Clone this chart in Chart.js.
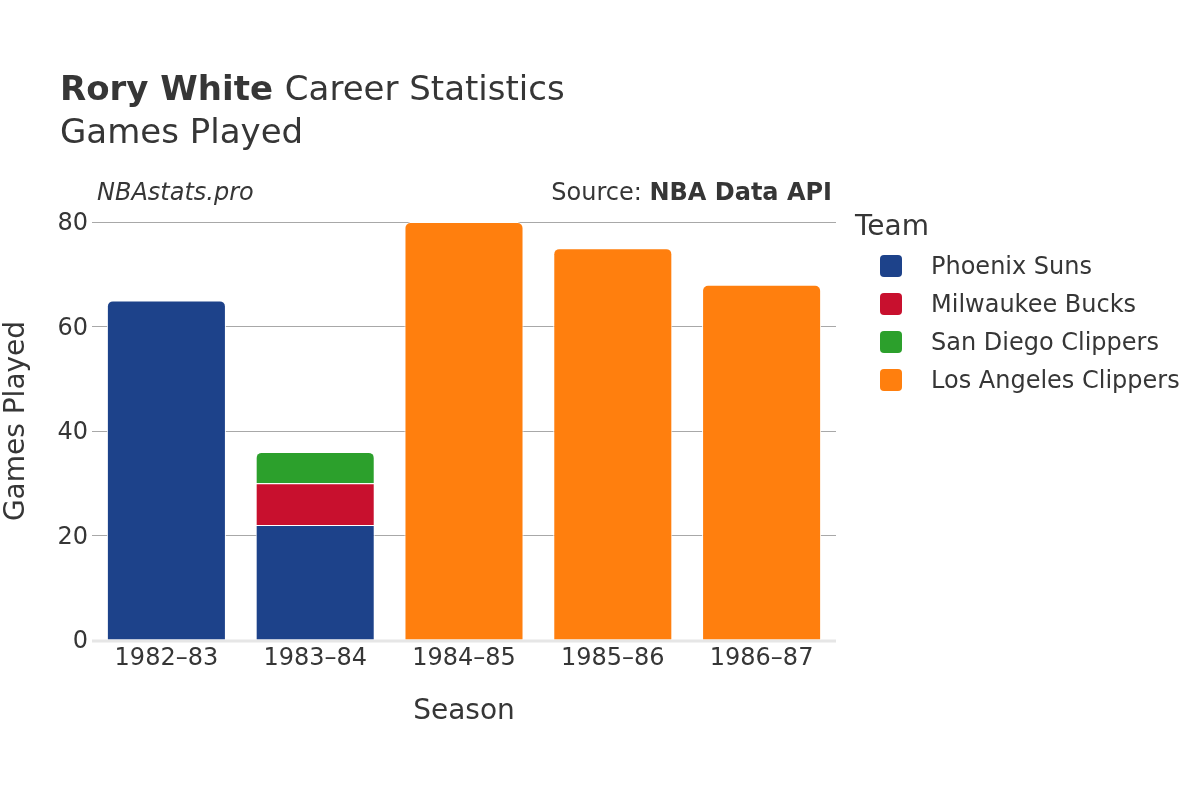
<!DOCTYPE html>
<html>
<head>
<meta charset="utf-8">
<script src="https://cdn.jsdelivr.net/npm/chart.js@4.4.1/dist/chart.umd.min.js"></script>
<style>
  html, body { margin: 0; padding: 0; background: #ffffff; }
  #wrap { width: 1200px; height: 800px; position: relative; }
</style>
</head>
<body>
<div id="wrap"><canvas id="c" width="1200" height="800"></canvas></div>
<script>
const seasons = ["1982–83", "1983–84", "1984–85", "1985–86", "1986–87"];
const teams = ["Phoenix Suns", "Milwaukee Bucks", "San Diego Clippers", "Los Angeles Clippers"];
const teamColors = ["#1d428a", "#c8102e", "#2ca02c", "#ff7f0e"];
const phoenixSuns = [65, 22, null, null, null];
const milwaukeeBucks = [null, 8, null, null, null];
const sanDiegoClippers = [null, 6, null, null, null];
const losAngelesClippers = [null, null, 80, 75, 68];
const yTicks = [0, 20, 40, 60, 80];

const seriesValues = [phoenixSuns, milwaukeeBucks, sanDiegoClippers, losAngelesClippers];
const FONT = "'DejaVu Sans', sans-serif";
const TEXT = "#363636";

function isTopOfStack(ctx) {
  const i = ctx.dataIndex, d = ctx.datasetIndex;
  for (let k = d + 1; k < seriesValues.length; k++) {
    if (seriesValues[k][i] != null) return false;
  }
  return true;
}

const datasets = teams.map((t, k) => ({
  label: t,
  data: seriesValues[k],
  backgroundColor: teamColors[k],
  borderColor: "#ffffff",
  borderWidth: 1,
  borderSkipped: "start",
  borderRadius: (ctx) => isTopOfStack(ctx)
    ? {topLeft: 6, topRight: 6, bottomLeft: 0, bottomRight: 0}
    : {topLeft: 0, topRight: 0, bottomLeft: 0, bottomRight: 0},
  categoryPercentage: 1.0,
  barPercentage: 0.80
}));

const textPlugin = {
  id: "texts",
  afterDraw(chart) {
    const c = chart.ctx;
    const a = chart.chartArea;
    c.save();
    c.fillStyle = TEXT;
    c.textBaseline = "alphabetic";
    c.textAlign = "left";
    // Title
    c.font = "bold 34px " + FONT;
    const boldPart = "Rory White";
    c.fillText(boldPart, 60, 100);
    const w = c.measureText(boldPart + " ").width;
    c.font = "34px " + FONT;
    c.fillText("Career Statistics", 60 + w, 100);
    c.fillText("Games Played", 60, 143);
    // annotations
    c.font = "italic 24px " + FONT;
    c.fillText("NBAstats.pro", 97, 200);
    c.textAlign = "right";
    c.font = "bold 24px " + FONT;
    const src = "NBA Data API";
    c.fillText(src, 832, 200);
    const sw = c.measureText(src).width;
    c.font = "24px " + FONT;
    c.fillText("Source: ", 832 - sw, 200);
    // axis titles
    c.textAlign = "center";
    c.textBaseline = "middle";
    c.font = "28px " + FONT;
    c.fillText("Season", (a.left + a.right) / 2, 712);
    c.save();
    c.translate(17, 421);
    c.rotate(-Math.PI / 2);
    c.fillText("Games Played", 0, 0);
    c.restore();
    // legend
    c.textAlign = "left";
    c.font = "28px " + FONT;
    c.fillText("Team", 855, 228);
    c.font = "24px " + FONT;
    chart.data.datasets.forEach((ds, k) => {
      const cy = 266 + k * 38;
      c.fillStyle = ds.backgroundColor;
      c.beginPath();
      c.roundRect(880, cy - 11, 22, 22, 4);
      c.fill();
      c.fillStyle = TEXT;
      c.fillText(ds.label, 931, cy + 2);
    });
    c.restore();
  },
  beforeDatasetsDraw(chart) {
    // zero line
    const c = chart.ctx, a = chart.chartArea;
    const y0 = chart.scales.y.getPixelForValue(0);
    c.save();
    c.strokeStyle = "#e6e6e6";
    c.lineWidth = 3;
    c.beginPath();
    c.moveTo(a.left, y0 + 1);
    c.lineTo(a.right, y0 + 1);
    c.stroke();
    c.restore();
  }
};

new Chart(document.getElementById("c"), {
  type: "bar",
  data: { labels: seasons, datasets },
  options: {
    responsive: false,
    animation: false,
    devicePixelRatio: 1,
    layout: { padding: { top: 222, right: 364, left: 0, bottom: 0 } },
    plugins: { legend: { display: false }, title: { display: false }, tooltip: { enabled: false } },
    scales: {
      x: {
        stacked: true,
        grid: { display: false, drawTicks: false },
        border: { display: false },
        ticks: { color: TEXT, font: { family: FONT, size: 24 }, padding: 4, maxRotation: 0 },
        afterFit: (s) => { s.height = 160; }
      },
      y: {
        stacked: true,
        min: 0,
        max: 80,
        afterBuildTicks: (s) => { s.ticks = yTicks.map(v => ({ value: v })); },
        grid: {
          drawTicks: false,
          color: (ctx) => ctx.tick && ctx.tick.value === 0 ? "rgba(0,0,0,0)" : "#a8a8a8",
          lineWidth: 1
        },
        border: { display: false },
        ticks: { color: TEXT, font: { family: FONT, size: 24 }, padding: 4, labelOffset: 2 },
        afterFit: (s) => { s.width = 92; }
      }
    }
  },
  plugins: [textPlugin]
});
</script>
</body>
</html>
